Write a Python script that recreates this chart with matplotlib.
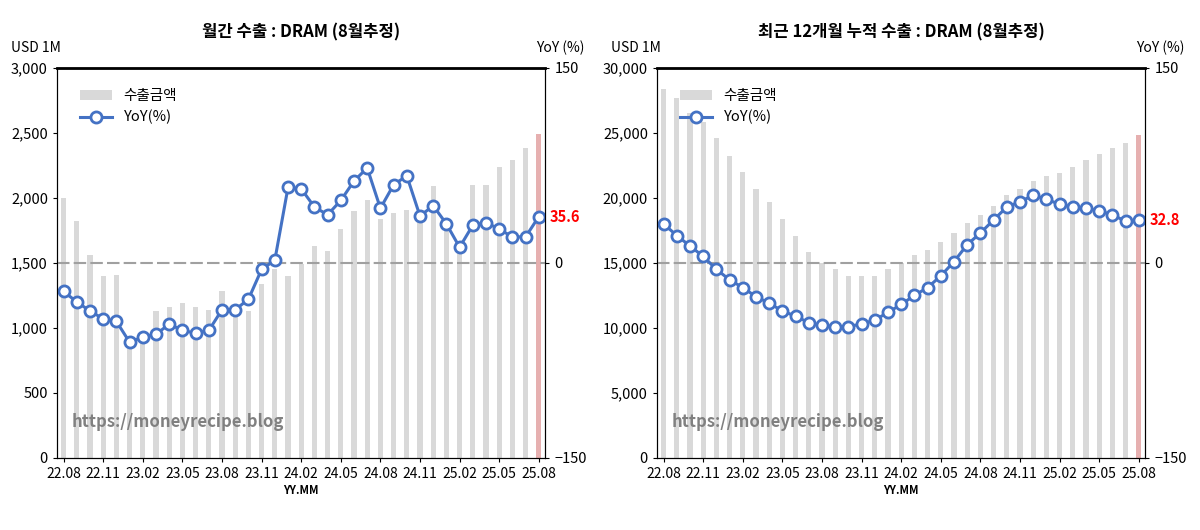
import matplotlib
matplotlib.use("Agg")
import matplotlib.pyplot as plt
from matplotlib import font_manager
import numpy as np

names = {f.name for f in font_manager.fontManager.ttflist}
cjk = [n for n in ["Noto Sans CJK KR", "Noto Sans CJK JP", "Noto Sans CJK SC", "Noto Sans CJK TC"] if n in names]
plt.rcParams["font.family"] = cjk + ["DejaVu Sans"]

months = [f"{y:02d}.{m:02d}" for y, m in
          [(22, 8), (22, 9), (22, 10), (22, 11), (22, 12)] +
          [(23, m) for m in range(1, 13)] + [(24, m) for m in range(1, 13)] +
          [(25, m) for m in range(1, 9)]]

monthly_exp = [2000, 1820, 1560, 1400, 1410, 850, 880, 1130, 1160, 1190, 1160, 1140,
               1280, 1130, 1130, 1340, 1450, 1400, 1490, 1630, 1590, 1760, 1900, 1980,
               1840, 1880, 1910, 1820, 2090, 1790, 1610, 2100, 2100, 2240, 2290, 2380, 2490]
monthly_yoy = [-22, -30, -37, -43, -45, -61, -57, -55, -47, -52, -54, -52, -36, -36, -28,
               -5, 2, 58, 57, 43, 37, 48, 63, 73, 42, 60, 67, 36, 44, 30, 12, 29, 31, 26,
               20, 20, 35.6]
cum_exp = [28400, 27700, 26500, 25800, 24600, 23200, 22000, 20700, 19700, 18400, 17100,
           15800, 15000, 14500, 14000, 14000, 14000, 14500, 15000, 15600, 16000, 16600,
           17300, 18100, 18700, 19400, 20200, 20700, 21300, 21700, 21900, 22400, 22900,
           23400, 23800, 24200, 24800]
cum_yoy = [30, 21, 13, 5, -5, -13, -19, -26, -31, -37, -41, -46, -48, -49, -49, -47, -44,
           -38, -32, -25, -19, -10, 1, 14, 23, 33, 43, 47, 52, 49, 45, 43, 42, 40, 37, 32, 32.8]

fig = plt.figure(figsize=(12, 5.3), dpi=100)

def panel(left, title, bars, yoy, ymax, ystep, last_lbl):
    ax = fig.add_axes([left, 0.136, 0.407, 0.736])
    x = np.arange(len(bars))
    cols = ["#d9d9d9"] * (len(bars) - 1) + ["#e6b0b0"]
    ax.bar(x, bars, width=0.4, color=cols, label="수출금액", zorder=1)
    ax.set_ylim(0, ymax)
    ax.set_yticks(np.arange(0, ymax + 1, ystep))
    ax.set_yticklabels([f"{int(v):,}" for v in np.arange(0, ymax + 1, ystep)], fontsize=10.5)
    ax.set_xlim(-0.5, len(bars) - 0.5)
    ax.set_xticks(x[::3])
    ax.set_xticklabels(months[::3], fontsize=10)
    ax.set_xlabel("YY.MM", fontsize=8, fontweight="bold", labelpad=2)
    ax.tick_params(length=3)
    ax.text(-0.095, 1.04, "USD 1M", transform=ax.transAxes, ha="left", fontsize=10)
    ax.set_title(title, fontsize=12, fontweight="bold", pad=22)
    ax.spines["top"].set_linewidth(2)
    ax2 = ax.twinx()
    ax2.set_ylim(-150, 150)
    ax2.set_yticks([-150, 0, 150])
    ax2.tick_params(labelsize=10.5, length=3)
    ax2.axhline(0, color="#a0a0a0", lw=1.5, ls=(0, (6, 2)), zorder=0)
    ax2.plot(x, yoy, color="#4472c4", lw=2.2, marker="o", ms=8, mfc="white",
             mec="#4472c4", mew=2, label="YoY(%)")
    ax2.text(x[-1] + 0.8, yoy[-1], last_lbl, color="red", fontsize=10.5,
             fontweight="bold", va="center")
    ax2.text(1.08, 1.04, "YoY (%)", transform=ax.transAxes, ha="right", fontsize=10)
    h1, l1 = ax.get_legend_handles_labels()
    h2, l2 = ax2.get_legend_handles_labels()
    ax2.legend(h1 + h2, l1 + l2, loc="upper left", bbox_to_anchor=(0.02, 0.98),
               frameon=False, fontsize=10.5, handlelength=2.2, labelspacing=0.5)
    ax.text(0.03, 0.08, "https://moneyrecipe.blog", transform=ax.transAxes,
            color="#808080", fontsize=12, fontweight="bold")

panel(0.0475, "월간 수출 : DRAM (8월추정)", monthly_exp, monthly_yoy, 3000, 500, "35.6")
panel(0.5475, "최근 12개월 누적 수출 : DRAM (8월추정)", cum_exp, cum_yoy, 30000, 5000, "32.8")

fig.savefig("out.png", dpi=100)
